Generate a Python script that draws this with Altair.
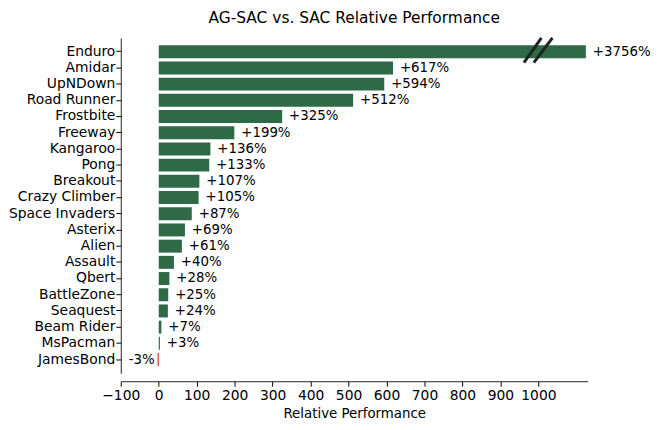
import altair as alt
import pandas as pd

games = ["Enduro", "Amidar", "UpNDown", "Road Runner", "Frostbite", "Freeway",
         "Kangaroo", "Pong", "Breakout", "Crazy Climber", "Space Invaders",
         "Asterix", "Alien", "Assault", "Qbert", "BattleZone", "Seaquest",
         "Beam Rider", "MsPacman", "JamesBond"]
values = [3756, 617, 594, 512, 325, 199, 136, 133, 107, 105, 87, 69, 61, 40,
          28, 25, 24, 7, 3, -3]
clip_at = 1125
break_x = [962, 988]
break_x2 = [1008, 1037]

df = pd.DataFrame({
    "game": games,
    "value": values,
    "shown": [min(v, clip_at) for v in values],
    "label": [("+%d%%" % v) if v >= 0 else ("%d%%" % v) for v in values],
    "pos": ["pos" if v >= 0 else "neg" for v in values],
})
brk = pd.DataFrame({"x": break_x, "x2": break_x2})

xscale = alt.Scale(domain=[-100, 1130], nice=False, zero=False)
yscale = alt.Scale(paddingInner=0.2, paddingOuter=0.45)

base = alt.Chart(df).encode(
    y=alt.Y("game:N", sort=games, scale=yscale, title=None,
            axis=alt.Axis(labelFontSize=14, labelColor="black", tickColor="black",
                          domainColor="#222", tickSize=5, labelPadding=1,
                          labelFont="DejaVu Sans")),
)

bars = base.mark_bar().encode(
    x=alt.X("shown:Q", scale=xscale, title="Relative Performance",
            axis=alt.Axis(values=list(range(-100, 1001, 100)), format="d",
                          labelFontSize=14,
                          labelColor="black", tickColor="black", domainColor="#222",
                          tickSize=5, offset=8, grid=False, titleFontSize=13.5,
                          titleFontWeight="normal", titleColor="black",
                          labelFont="DejaVu Sans", titleFont="DejaVu Sans",
                          labelFlush=False, titlePadding=5)),
    x2=alt.datum(0),
    color=alt.Color("pos:N", scale=alt.Scale(domain=["pos", "neg"],
                                             range=["#2d6a45", "#d62728"]),
                    legend=None),
)

text_pos = base.transform_filter("datum.value >= 0").mark_text(
    align="left", dx=7, fontSize=13.5, font="DejaVu Sans", color="black"
).encode(x=alt.X("shown:Q", scale=xscale), text="label:N")

text_neg = base.transform_filter("datum.value < 0").mark_text(
    align="right", dx=-3, fontSize=13.5, font="DejaVu Sans", color="black"
).encode(x=alt.X("shown:Q", scale=xscale), text="label:N")

breaks = alt.Chart(brk).mark_rule(color="#222", strokeWidth=3).encode(
    x=alt.X("x:Q", scale=xscale),
    x2="x2:Q",
    y=alt.value(25),
    y2=alt.value(0),
)

chart = alt.layer(bars, text_pos, text_neg, breaks).properties(
    width=472, height=339,
    padding={"left": 0, "top": 0, "right": 5, "bottom": 5},
    title=alt.TitleParams("AG-SAC vs. SAC Relative Performance", fontSize=15.6,
                          fontWeight="normal", font="DejaVu Sans", color="black",
                          offset=10),
).configure_view(stroke=None).configure_axis(grid=False)

chart.save("out.html", embed_options={"renderer": "svg", "actions": False})
